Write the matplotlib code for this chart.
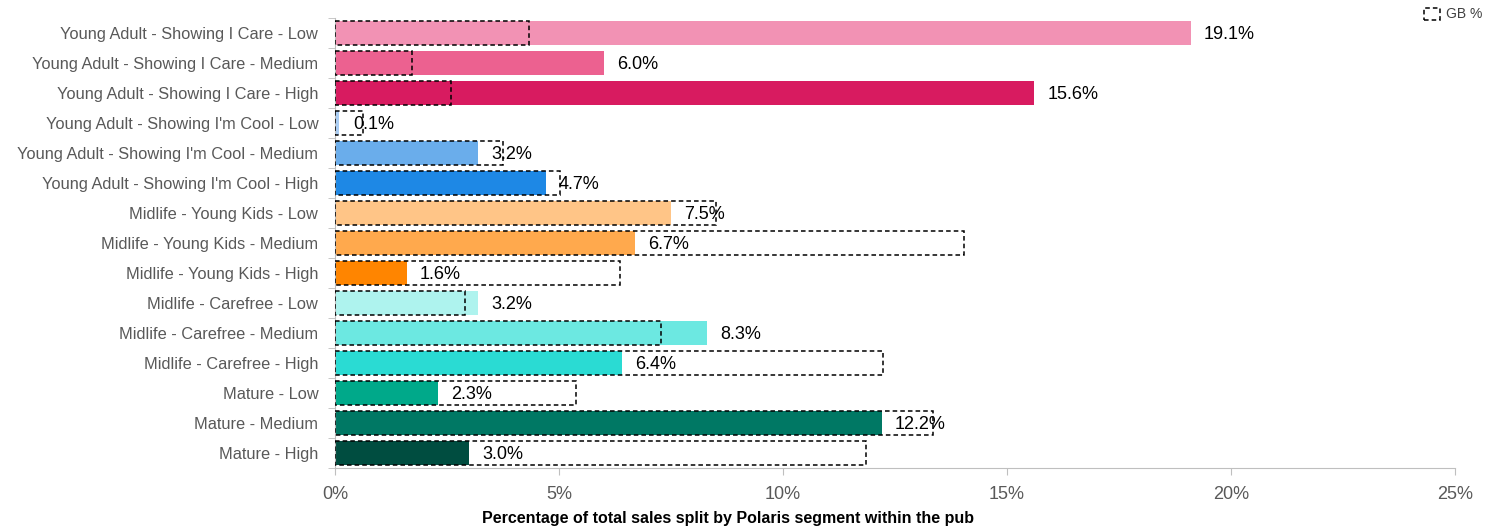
import numpy as np
import matplotlib.pyplot as plt
from matplotlib.patches import Rectangle

plt.rcParams['font.family'] = ['Liberation Sans', 'DejaVu Sans']

# Data
segments = [
    'Young Adult - Showing I Care - Low',
    'Young Adult - Showing I Care - Medium',
    'Young Adult - Showing I Care - High',
    "Young Adult - Showing I'm Cool - Low",
    "Young Adult - Showing I'm Cool - Medium",
    "Young Adult - Showing I'm Cool - High",
    'Midlife - Young Kids - Low',
    'Midlife - Young Kids - Medium',
    'Midlife - Young Kids - High',
    'Midlife - Carefree - Low',
    'Midlife - Carefree - Medium',
    'Midlife - Carefree - High',
    'Mature - Low',
    'Mature - Medium',
    'Mature - High',
]
pub_pct = [19.1, 6.0, 15.6, 0.1, 3.2, 4.7, 7.5, 6.7, 1.6, 3.2, 8.3, 6.4, 2.3, 12.2, 3.0]
gb_pct = [4.33, 1.72, 2.59, 0.62, 3.74, 5.03, 8.5, 14.05, 6.37, 2.9, 7.28, 12.23, 5.38, 13.35, 11.86]
colors = ['#F292B4', '#EC6190', '#D81B60',
          '#A9CDF4', '#6AADEB', '#1E88E5',
          '#FFC587', '#FFA94D', '#FF8500',
          '#AEF3EE', '#6CE8E1', '#2ADBD3',
          '#00A98A', '#007864', '#004D40']

fig = plt.figure(figsize=(14.99, 5.31), dpi=100)
ax = fig.add_axes([335 / 1499, 1 - 468 / 531, 1120 / 1499, 450 / 531])

y = np.arange(len(segments))
h = 0.8
ax.barh(y, pub_pct, height=h, color=colors, zorder=2)

# GB % outline boxes
for yi, g in zip(y, gb_pct):
    ax.add_patch(Rectangle((0, yi - h / 2), g, h, fill=False, edgecolor='black',
                           linestyle=(0, (3, 2)), linewidth=1.1, zorder=3))

for yi, v in zip(y, pub_pct):
    ax.text(v + 0.3, yi + 0.05, f'{v:.1f}%', va='center', ha='left', fontsize=13,
            color='black', zorder=4)

ax.set_xlim(0, 25)
ax.set_ylim(len(segments) - 0.5, -0.5)
ax.set_xticks(np.arange(0, 26, 5))
ax.set_xticklabels([f'{t}%' for t in range(0, 26, 5)])
ax.set_yticks(y)
ax.set_yticklabels(segments)
ax.set_yticks(np.arange(-0.5, len(segments), 1), minor=True)
ax.tick_params(axis='y', which='major', length=0, pad=12, labelsize=11.8, labelcolor='#595959')
ax.tick_params(axis='y', which='minor', length=5, color='#BFBFBF')
ax.tick_params(axis='x', length=5, color='#BFBFBF', labelsize=13, labelcolor='#595959', pad=8)

for s in ['top', 'right']:
    ax.spines[s].set_visible(False)
for s in ['left', 'bottom']:
    ax.spines[s].set_color('#BFBFBF')

fig.text(728 / 1499, 1 - 518 / 531, 'Percentage of total sales split by Polaris segment within the pub',
         ha='center', va='center', fontsize=11.5, fontweight='bold')

# Legend
fig.patches.append(Rectangle((1424 / 1499, 1 - 20 / 531), 16 / 1499, 12 / 531, fill=False,
                             edgecolor='black', linestyle=(0, (3, 2)), linewidth=1.1,
                             transform=fig.transFigure, figure=fig))
fig.text(1446 / 1499, 1 - 14 / 531, 'GB %', ha='left', va='center', fontsize=10, color='#404040')

fig.savefig('out.png', dpi=100)
